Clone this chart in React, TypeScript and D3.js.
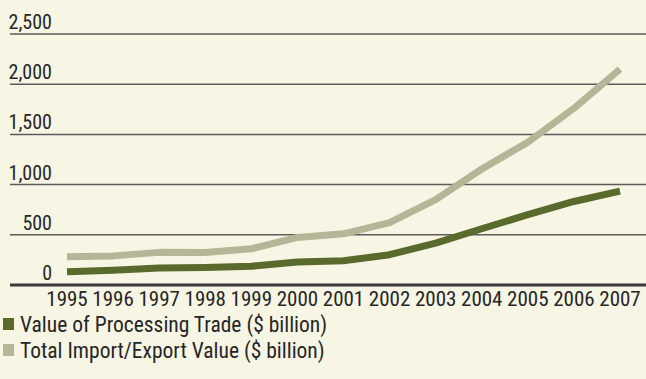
import React from "react";
import * as d3 from "d3";

const years = ["1995","1996","1997","1998","1999","2000","2001","2002","2003","2004","2005","2006","2007"];
const processingTrade = [132, 147, 170, 174, 186, 230, 241, 302, 418, 560, 700, 832, 935];
const totalTrade = [281, 290, 325, 324, 361, 474, 510, 621, 851, 1155, 1422, 1760, 2150];
const yTicks = [0, 500, 1000, 1500, 2000, 2500];
const seriesNames = ["Value of Processing Trade ($ billion)", "Total Import/Export Value ($ billion)"];

const W = 646, H = 379;
const FONT = "'Liberation Sans Narrow', 'Arial Narrow', 'Roboto Condensed', sans-serif";
const BG = "#f7f5e4";
const DARK = "#5a6a2c";
const LIGHT = "#b4b697";
const TEXT = "#262626";

export default function App() {
  const x = d3.scalePoint<string>().domain(years).range([67, 620]);
  const y = d3.scaleLinear().domain([0, 2500]).range([285, 34]);
  const line = d3.line<number>().x((_, i) => x(years[i])!).y((v) => y(v));
  const fmt = d3.format(",");
  return (
    <svg width={W} height={H} style={{ position: "absolute", left: 0, top: 0, display: "block" }} fontFamily={FONT}>
      <rect x={0} y={0} width={W} height={H} fill={BG} />
      {yTicks.map((t) => (
        <g key={t}>
          <line x1={10} x2={W} y1={y(t)} y2={y(t)} stroke={t === 0 ? "#3a3a3a" : "#5c5c5c"} strokeWidth={t === 0 ? 3 : 1.5} />
          <text x={52} y={y(t) - 5} textAnchor="end" fontSize={20} fill={TEXT}>{fmt(t)}</text>
        </g>
      ))}
      <path d={line(totalTrade)!} fill="none" stroke={LIGHT} strokeWidth={7} strokeLinejoin="round" />
      <path d={line(processingTrade)!} fill="none" stroke={DARK} strokeWidth={7} strokeLinejoin="round" />
      {years.map((yr) => (
        <text key={yr} x={x(yr)} y={306} textAnchor="middle" fontSize={21} fill={TEXT}>{yr}</text>
      ))}
      {seriesNames.map((name, i) => (
        <g key={name}>
          <rect x={3} y={318 + i * 26} width={11} height={12} fill={i === 0 ? DARK : LIGHT} />
          <text x={20} y={332 + i * 26} fontSize={21.5} fill={TEXT}>{name}</text>
        </g>
      ))}
    </svg>
  );
}
